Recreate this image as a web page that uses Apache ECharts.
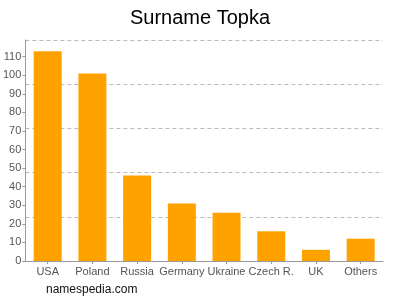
<!DOCTYPE html>
<html><head><meta charset="utf-8">
<script src="https://cdn.jsdelivr.net/npm/echarts@6/dist/echarts.min.js"></script>
<style>html,body{margin:0;padding:0;background:#fff}#c{width:400px;height:300px}</style>
</head><body><div id="c"></div>
<script>
const categories = ["USA","Poland","Russia","Germany","Ukraine","Czech R.","UK","Others"];
const values = [113,101,46,31,26,16,6,12];
const yMax = 119;
const font = "Arial, 'Liberation Sans', sans-serif";
const chart = echarts.init(document.getElementById('c'));
chart.setOption({
  animation:false,
  title:{text:"Surname Topka",left:"center",top:3,textStyle:{fontFamily:font,fontSize:20,fontWeight:"normal",color:"#000"}},
  graphic:[{type:"text",left:46,top:284,style:{text:"namespedia.com",font:"12px "+font,fill:"#111"}}],
  grid:{left:24,right:17,top:40,bottom:39},
  xAxis:{type:"category",data:categories,
    axisLine:{lineStyle:{color:"#999"}},
    axisTick:{show:true,alignWithLabel:true,length:3,lineStyle:{color:"#999"}},
    axisLabel:{color:"#555",fontFamily:font,fontSize:11,margin:5,interval:0}},
  yAxis:[{type:"value",min:0,max:yMax,interval:10,
    axisLine:{show:true,lineStyle:{color:"#999"}},
    axisTick:{show:true,length:3,lineStyle:{color:"#999"}},
    splitLine:{show:false},
    axisLabel:{color:"#555",fontFamily:font,fontSize:11,margin:4,showMaxLabel:false}},
   {type:"value",min:0,max:yMax,interval:yMax/5,position:"left",
    axisLine:{show:false},axisTick:{show:false},axisLabel:{show:false},
    splitLine:{show:true,lineStyle:{color:"#bbb",type:[4,3],width:1}}}],
  series:[{type:"bar",data:values,barWidth:28,itemStyle:{color:"#FFA200"}}]
});
</script></body></html>
